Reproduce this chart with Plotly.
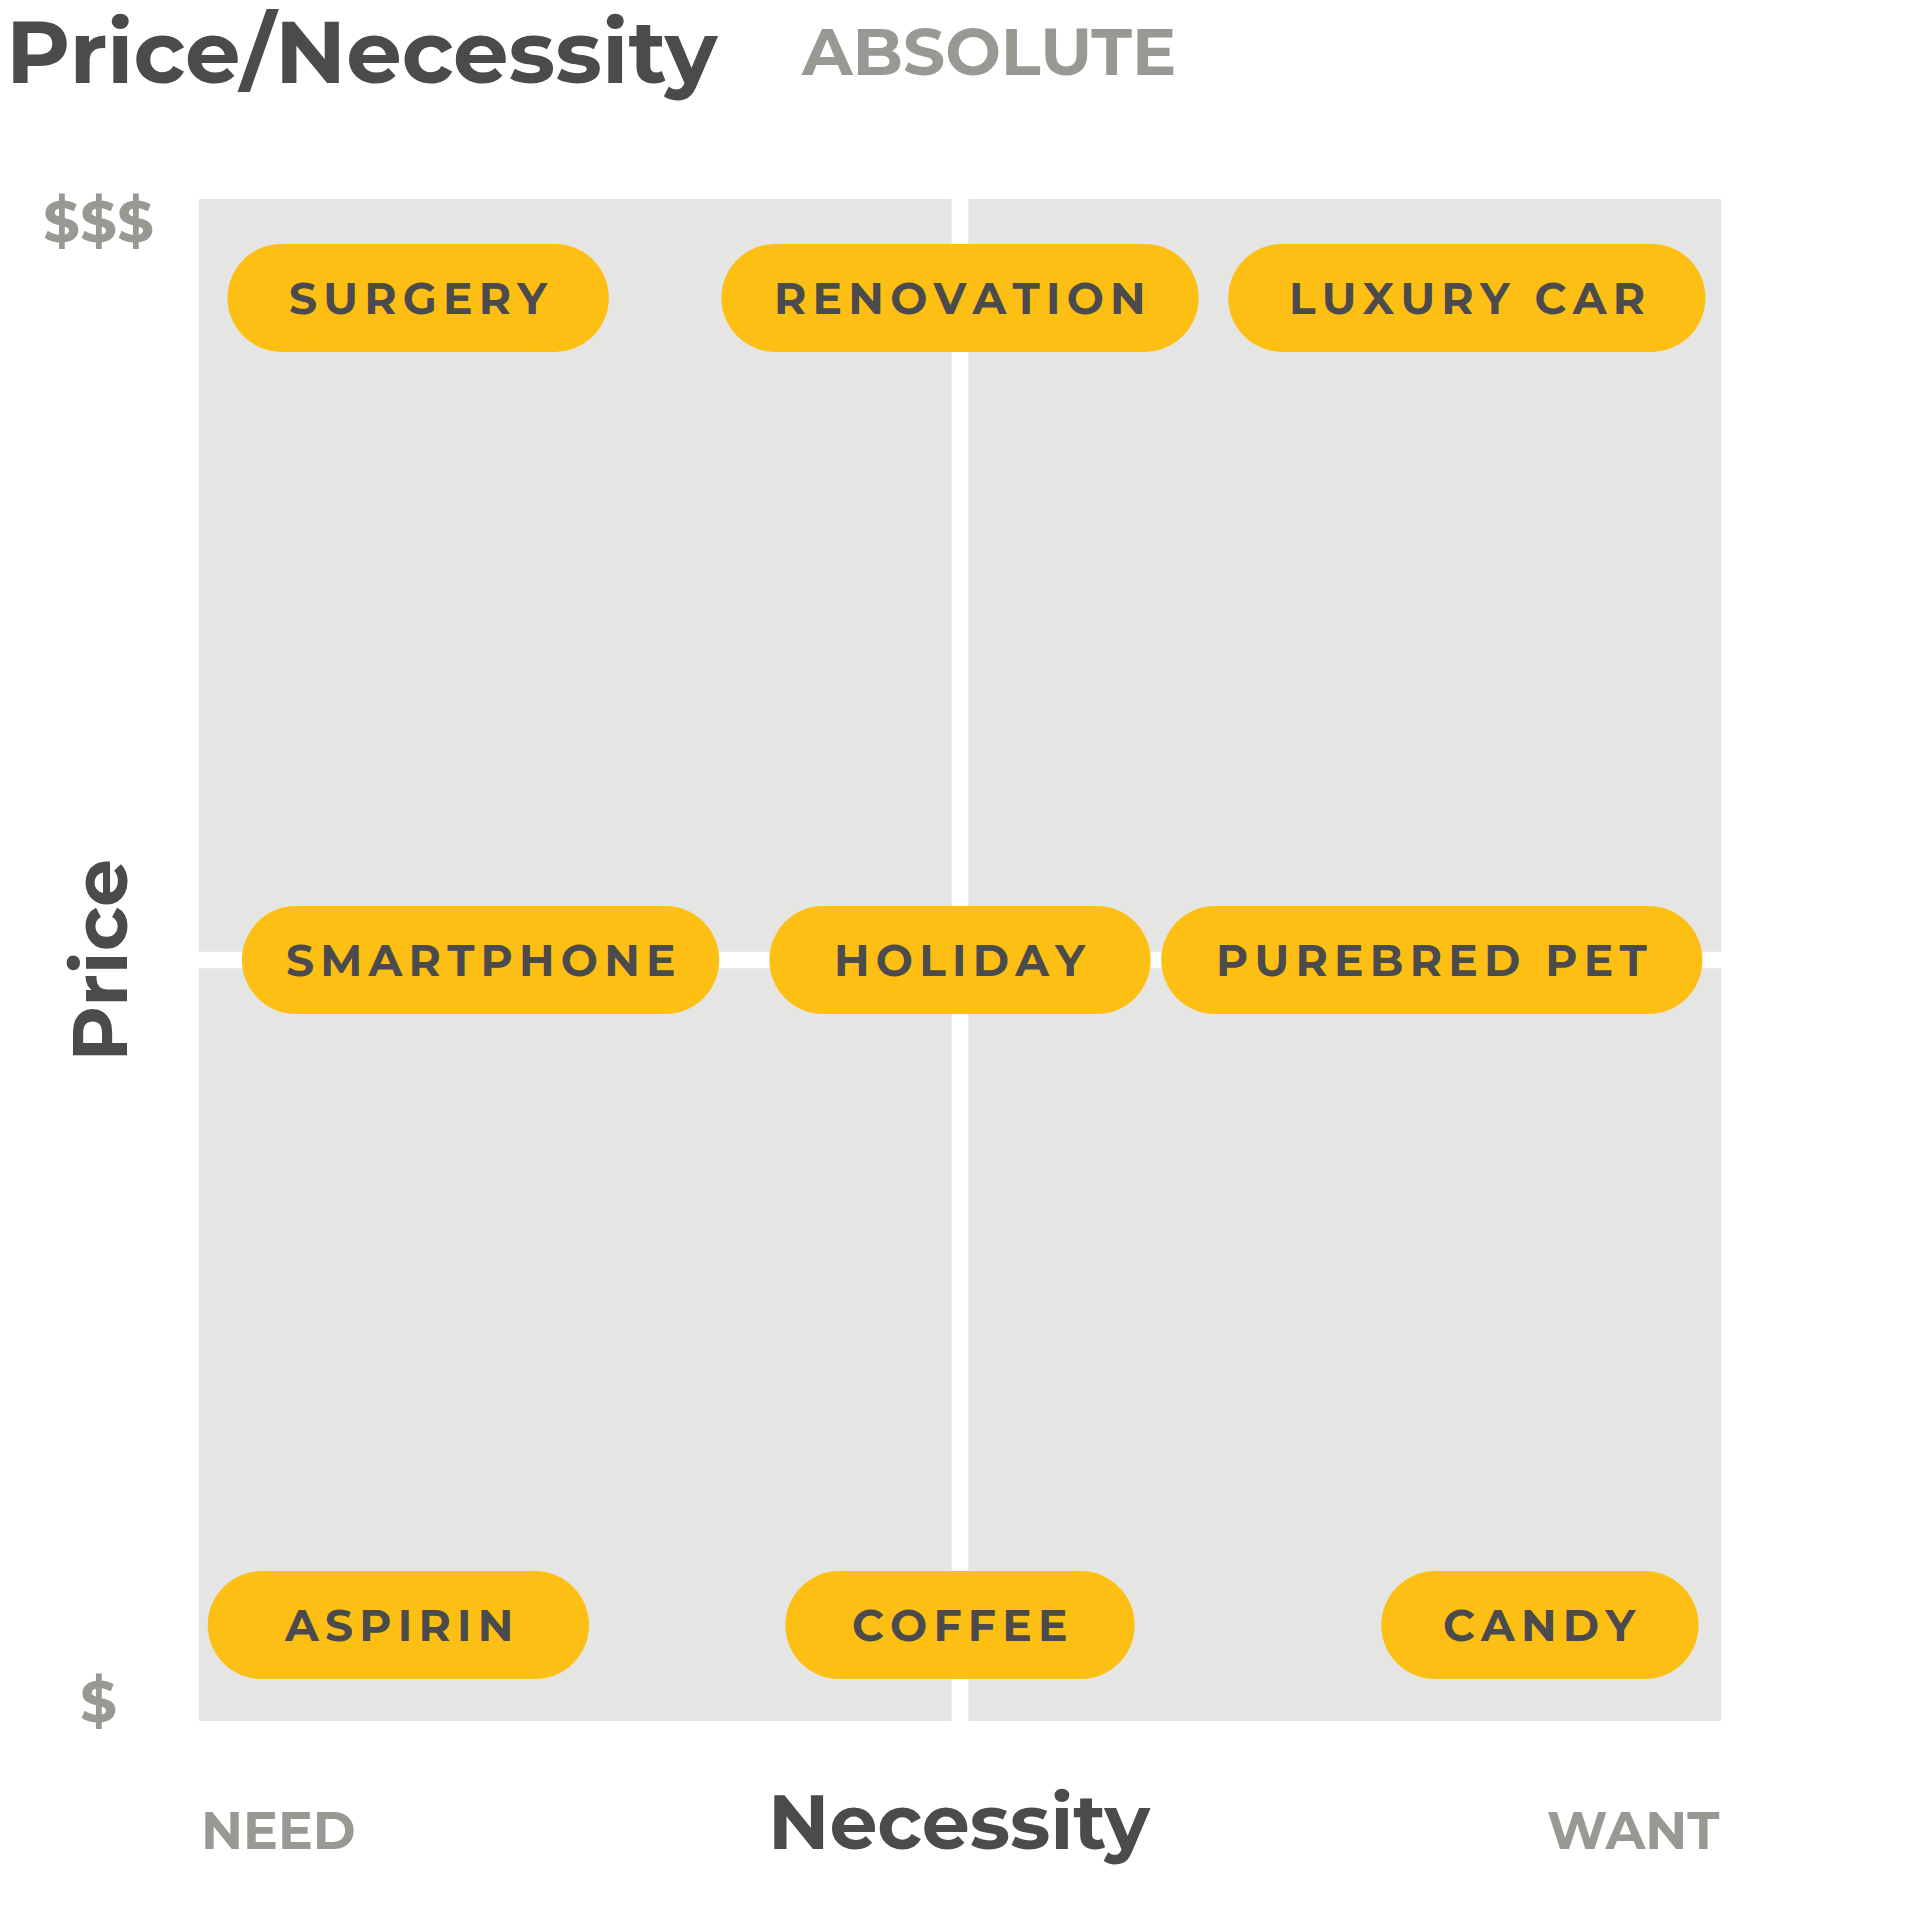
import plotly.graph_objects as go

labels = ["SURGERY", "RENOVATION", "LUXURY CAR",
          "SMARTPHONE", "HOLIDAY", "PUREBRED PET",
          "ASPIRIN", "COFFEE", "CANDY"]
necessity = [0.144, 0.5, 0.833, 0.185, 0.5, 0.81, 0.131, 0.5, 0.881]
price = [0.935, 0.935, 0.935, 0.5, 0.5, 0.5, 0.063, 0.063, 0.063]

DARK = "#4b4b4d"
GRAY = "#9a9893"
PILL = "#fdbf13"
BOLD = "Montserrat, Lato, 'Open Sans', sans-serif"

fig = go.Figure()
fig.add_trace(go.Scatter(x=[0, 1], y=[0, 1], mode="markers",
                         marker=dict(opacity=0), hoverinfo="skip", showlegend=False))

# quadrant background
g = 0.0055
for x0, x1 in [(0, 0.5 - g), (0.5 + g, 1)]:
    for y0, y1 in [(0, 0.5 - g), (0.5 + g, 1)]:
        fig.add_shape(type="rect", xref="x", yref="y", x0=x0, x1=x1, y0=y0, y1=y1,
                      fillcolor="#e5e5e3", line_width=0, layer="below")

h = 108
for lab, x, y in zip(labels, necessity, price):
    w = (128 + 26 * len(lab)) * 1.23
    half = w / 2 - h / 2
    fig.add_shape(type="rect", xref="x", yref="y", xsizemode="pixel", ysizemode="pixel",
                  xanchor=x, yanchor=y, x0=-half, x1=half, y0=-h / 2, y1=h / 2,
                  fillcolor=PILL, line_width=0)
    for c in (-half, half):
        fig.add_shape(type="circle", xref="x", yref="y", xsizemode="pixel", ysizemode="pixel",
                      xanchor=x, yanchor=y, x0=c - h / 2, x1=c + h / 2, y0=-h / 2, y1=h / 2,
                      fillcolor=PILL, line_width=0)
    fig.add_annotation(x=x, y=y, text="\u2009".join(lab), showarrow=False,
                       font=dict(family=BOLD, size=44, color=DARK, weight=700))

def note(text, x, y, size, color, xanchor="center", angle=0):
    fig.add_annotation(xref="paper", yref="paper", x=x, y=y, text=text, showarrow=False,
                       xanchor=xanchor, yanchor="middle", textangle=angle,
                       font=dict(family=BOLD, size=size, color=color, weight=700))

note("Price/Necessity", -0.128, 1.097, 88, DARK, "left")
note("ABSOLUTE", 0.394, 1.097, 66, GRAY, "left")
note("$$$", -0.066, 0.985, 58, GRAY)
note("$", -0.066, 0.013, 58, GRAY)
note("Price", -0.066, 0.5, 76, DARK, angle=-90)
note("Necessity", 0.5, -0.066, 76, DARK)
note("NEED", 0.0, -0.072, 52, GRAY, "left")
note("WANT", 1.0, -0.072, 52, GRAY, "right")

fig.update_xaxes(range=[0, 1], visible=False, fixedrange=True)
fig.update_yaxes(range=[0, 1], visible=False, fixedrange=True)
fig.update_layout(width=1920, height=1920, plot_bgcolor="white", paper_bgcolor="white",
                  margin=dict(l=191, r=207, t=191, b=207), showlegend=False)
fig.write_html("out.html")
